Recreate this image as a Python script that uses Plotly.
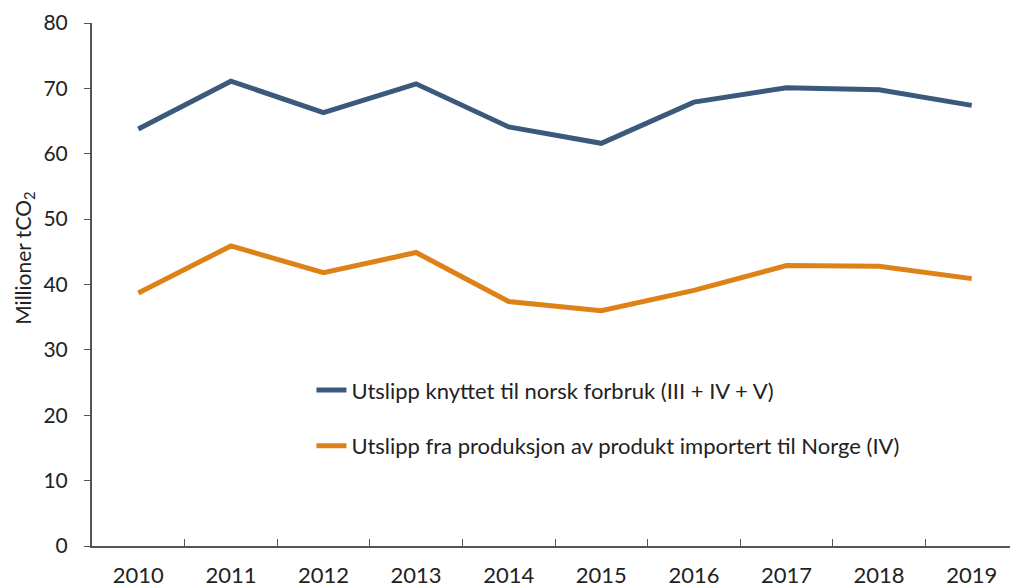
import plotly.graph_objects as go

# Years on the x axis
years = ["2010", "2011", "2012", "2013", "2014", "2015", "2016", "2017", "2018", "2019"]

# Emissions, million tonnes CO2
forbruk = [63.8, 71.1, 66.3, 70.7, 64.1, 61.6, 67.9, 70.1, 69.8, 67.4]
import_iv = [38.7, 45.9, 41.8, 44.9, 37.4, 36.0, 39.1, 42.9, 42.8, 40.9]

name_forbruk = "Utslipp knyttet til norsk forbruk (III + IV + V)"
name_import = "Utslipp fra produksjon av produkt importert til Norge (IV)"

font_name = "Lato, Open Sans, sans-serif"

fig = go.Figure()

fig.add_trace(go.Scatter(
    x=years, y=forbruk, mode="lines", name=name_forbruk,
    legendgroup="a",
    line=dict(color="#3B5A7B", width=5),
))
fig.add_trace(go.Scatter(
    x=years, y=import_iv, mode="lines", name=name_import,
    legendgroup="b",
    line=dict(color="#DE8217", width=5),
))

# page has an 8px body margin, so the figure is 8px smaller than the window
fig.update_layout(
    width=1010, height=579,
    margin=dict(l=84, r=0, t=15, b=41),
    plot_bgcolor="white", paper_bgcolor="white",
    font=dict(family=font_name, size=21, color="#222222"),
    showlegend=True,
    legend=dict(
        x=0.237, y=0.338, xanchor="left", yanchor="top",
        bgcolor="rgba(0,0,0,0)", font=dict(size=22),
        traceorder="grouped", tracegroupgap=24,
    ),
)

# y axis title placed a bit above centre, as in the original
fig.add_annotation(
    text="Millioner tCO<sub>2</sub>", xref="paper", yref="paper",
    x=-0.073, y=0.55, xanchor="center", yanchor="middle",
    textangle=-90, showarrow=False, font=dict(size=21),
)

fig.update_xaxes(
    type="category", range=[-0.5, 9.5], automargin=False,
    showline=True, linecolor="#555555", linewidth=2,
    ticks="inside", tickson="boundaries", ticklen=7, tickcolor="#555555",
    ticklabelstandoff=9, tickfont=dict(size=22),
    showgrid=False, zeroline=False,
)
fig.update_yaxes(
    range=[0, 80], dtick=10, automargin=False,
    showline=True, linecolor="#555555", linewidth=2,
    ticks="outside", ticklen=6, tickcolor="#555555",
    ticklabelstandoff=12,
    showgrid=False, zeroline=False,
)

fig.write_html("out.html")
